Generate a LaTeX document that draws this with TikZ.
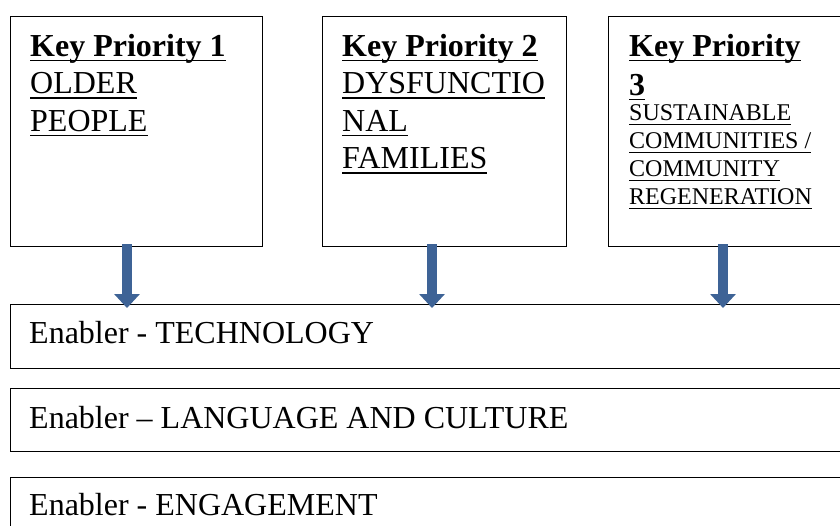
\documentclass[tikz,border=0pt]{standalone}
\usepackage{fontspec}
\setmainfont{Liberation Serif}
\usetikzlibrary{arrows.meta}

\definecolor{arrowblue}{RGB}{62,99,150}
\newcommand{\uln}[1]{\setbox0=\hbox{#1}\rlap{\rule[-5pt]{\wd0}{1.6pt}}\box0}
% first line starts #1 below the top of the box
\newcommand{\firstbase}[1]{\rule{0pt}{#1}}

\begin{document}
\begin{tikzpicture}[x=1pt,y=-1pt,
    prio/.style={draw, line width=1pt, anchor=north west, inner sep=0pt,
                 minimum width=#1, minimum height=230pt},
    enabler/.style={draw, line width=1pt, anchor=north west, inner sep=0pt,
                    minimum width=900pt, minimum height=64pt},
    boxtext/.style={anchor=north west, align=left, inner sep=0pt,
                    font=\fontsize{32}{37.5}\selectfont},
    smalltext/.style={anchor=north west, align=left, inner sep=0pt,
                      font=\fontsize{24}{28}\selectfont},
    enablertext/.style={anchor=base west, inner sep=0pt,
                        font=\fontsize{32}{37.5}\selectfont},
    bigarrow/.style={arrowblue, line width=10pt,
                     -{Triangle[width=25pt,length=14pt]},
                     shorten <=-3pt, shorten >=-4pt}]
        \clip (0,0) rectangle (840,525);

        \node[prio=252pt] (kp1) at (10,16) {};
        \node[prio=244pt] (kp2) at (322,16) {};
        \node[prio=260pt] (kp3) at (608,16) {};

        \node[boxtext] (kp1txt) at ([xshift=20pt]kp1.north west)
            {\firstbase{40pt}\uln{\textbf{Key Priority 1}}\\ \uln{OLDER}\\ \uln{PEOPLE}};
        \node[boxtext] (kp2txt) at ([xshift=20pt]kp2.north west)
            {\firstbase{40pt}\uln{\textbf{Key Priority 2}}\\ \uln{DYSFUNCTIO}\\ \uln{NAL}\\ \uln{FAMILIES}};
        \node[boxtext, font=\fontsize{32}{39}\selectfont] (kp3txt) at ([xshift=21pt]kp3.north west)
            {\firstbase{40pt}\uln{\textbf{Key Priority}}\\ \uln{\textbf{3}}};
        \node[smalltext] (kp3sub) at ([xshift=21pt]kp3.north west)
            {\firstbase{104pt}\uln{SUSTAINABLE}\\ \uln{COMMUNITIES /}\\ \uln{COMMUNITY}\\ \uln{REGENERATION}};

        \node[enabler] (tech) at (10,304) {};
        \node[enabler, minimum height=63pt] (lang) at (10,388) {};
        \node[enabler] (engage) at (10,477) {};

        \node[enablertext] (techtxt) at ([shift={(19,39)}]tech.north west) {Enabler - TECHNOLOGY};
        \node[enablertext] (langtxt) at ([shift={(19,40)}]lang.north west) {Enabler -- LANGUAGE AND CULTURE};
        \node[enablertext] (engagetxt) at ([shift={(19,38)}]engage.north west) {Enabler - ENGAGEMENT};

        \draw[bigarrow] ([xshift=117pt]kp1.south west) -- ([xshift=117pt]kp1.south west |- tech.north);
        \draw[bigarrow] ([xshift=110pt]kp2.south west) -- ([xshift=110pt]kp2.south west |- tech.north);
        \draw[bigarrow] ([xshift=115pt]kp3.south west) -- ([xshift=115pt]kp3.south west |- tech.north);
    \end{tikzpicture}
\end{document}
